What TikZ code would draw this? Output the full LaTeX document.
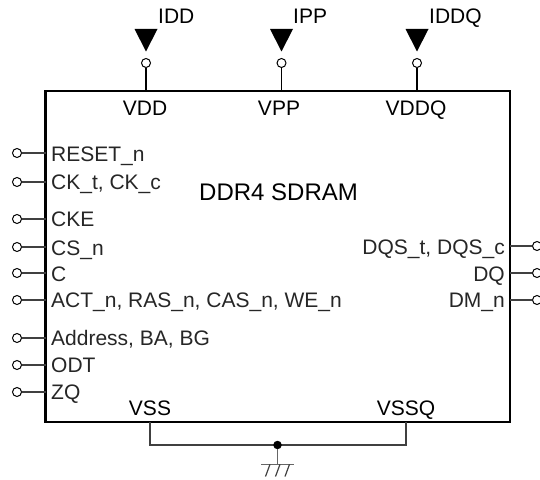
\documentclass[tikz,border=0pt]{standalone}
\usepackage{fontspec}
\setmainfont{Liberation Sans}
\tikzset{
  lbl/.style={inner sep=0pt,font=\fontsize{21bp}{24bp}\selectfont,text=black!85},
  lleft/.style={lbl,anchor=base west},
  lright/.style={lbl,anchor=base east},
  lmid/.style={lbl,anchor=base},
  pin/.style={circle,draw=black,fill=white,line width=1bp,minimum size=9bp,inner sep=0pt},
  wire/.style={draw=black!75,line width=1.4bp},
  tri/.style={fill=black,draw=none}
}
\begin{document}
\begin{tikzpicture}[x=1bp,y=-1bp]
\path[use as bounding box] (0,0) rectangle (540,480);
\node[draw=black,line width=2.2bp,outer sep=0pt,minimum width=464.5bp,minimum height=331bp,inner sep=0pt,anchor=north west] (chip) at (45.5,91) {};
\node[lbl,anchor=base west,font=\fontsize{24bp}{26bp}\selectfont,text=black] (title) at (199,200.5) {DDR4 SDRAM};
% supply pins
\foreach \n/\x/\tx/\t/\cx/\cc in {vdd/146/158/IDD/145/VDD,vpp/281.5/293/IPP/279/VPP,vddq/417/429/IDDQ/416/VDDQ}{
  \node[pin] (p\n) at (\x,63) {};
  \coordinate (e\n) at (\x,91);
  \draw[wire,draw=black,line width=1.2bp] (p\n) -- (e\n);
  \fill[tri] (\x-11.5,29) -- (\x+11.5,29) -- (\x,51.5) -- cycle;
  \node[lleft,text=black] (i\n) at (\tx,24) {\t};
  \node[lmid,text=black] (c\n) at (\cx,115.5) {\cc};
}
% left pins
\foreach \n/\y/\by/\t in {a/153/161.5/RESET\_n,b/182/190/{CK\_t, CK\_c},c/219/226.5/CKE,d/247/255/CS\_n,e/273/281/C,f/300/307.5/{ACT\_n, RAS\_n, CAS\_n, WE\_n},g/338/345.5/{Address, BA, BG},h/365/372.5/ODT,i/392/399/ZQ}{
  \node[pin] (l\n) at (17,\y) {};
  \coordinate (le\n) at (45.5,\y);
  \draw[wire] (l\n) -- (le\n);
  \node[lleft] (t\n) at (51,\by) {\t};
}
% right pins
\foreach \n/\y/\by/\t in {a/246/254/{DQS\_t, DQS\_c},b/273/281/DQ,c/300/307.5/DM\_n}{
  \node[pin] (r\n) at (537,\y) {};
  \coordinate (re\n) at (510,\y);
  \draw[wire] (r\n) -- (re\n);
  \node[lright] (s\n) at (505,\by) {\t};
}
\node[lmid,text=black] (vss) at (150,415) {VSS};
\node[lmid,text=black] (vssq) at (406,415) {VSSQ};
% ground
\coordinate (g1) at (150,422);
\coordinate (g2) at (150,445);
\coordinate (g3) at (406,445);
\coordinate (g4) at (406,422);
\draw[wire] (g1) -- (g2) -- (g3) -- (g4);
\node[circle,fill=black,minimum size=8.5bp,inner sep=0pt] (j) at (277.5,445) {};
\coordinate (gb) at (277.5,464);
\draw[wire,draw=black!60,line width=1.6bp] (j) -- (gb);
\draw[wire,draw=black!60] (261,464.3) -- (294,464.3);
\foreach \x in {270,280,289.5}{\draw[wire,line width=1.2bp] (\x,464.3) -- (\x-4.5,476.5);}
\end{tikzpicture}
\end{document}
